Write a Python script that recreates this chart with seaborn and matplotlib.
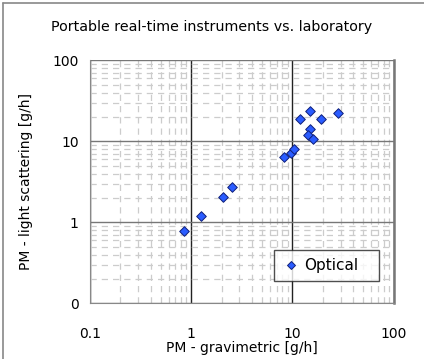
import matplotlib
matplotlib.use("Agg")
import matplotlib.pyplot as plt
import matplotlib.ticker as mticker
from matplotlib.lines import Line2D
import pandas as pd
import seaborn as sns

# gravimetric vs. light scattering, g/h
gravimetric = [0.85, 1.26, 2.08, 2.56, 8.3, 9.8, 10.3, 12.0, 15.1, 19.1, 15.1, 14.4, 15.9, 28.5]
scattering = [0.78, 1.21, 2.07, 2.73, 6.35, 7.2, 8.0, 18.7, 23.5, 18.7, 14.1, 11.9, 10.8, 22.2]
ticks = [0.1, 1, 10, 100]
yticklabels = ["0", "1", "10", "100"]
xticklabels = ["0.1", "1", "10", "100"]

df = pd.DataFrame({"grav": gravimetric, "light": scattering})

sns.set_style("white")
plt.rcParams["font.family"] = ["DejaVu Sans"]
plt.rcParams["text.color"] = "black"
plt.rcParams["axes.labelcolor"] = "black"
plt.rcParams["xtick.color"] = "black"
plt.rcParams["ytick.color"] = "black"

fig = plt.figure(figsize=(4.24, 3.59), dpi=100)
ax = fig.add_axes([0.2116, 0.155, 0.7167, 0.677])

ax.set_xscale("log")
ax.set_yscale("log")
ax.set_xlim(0.1, 100)
ax.set_ylim(0.1, 100)

# grid
ax.xaxis.set_minor_locator(mticker.LogLocator(base=10, subs=range(2, 10)))
ax.yaxis.set_minor_locator(mticker.LogLocator(base=10, subs=range(2, 10)))
ax.grid(which="minor", color="#cccccc", linestyle=(0, (5, 4)), linewidth=0.9)
ax.grid(which="major", axis="x", color="#222222", linewidth=1.0)
ax.grid(which="major", axis="y", color="#777777", linewidth=1.0)
ax.set_axisbelow(True)

sns.scatterplot(data=df, x="grav", y="light", marker="D", s=24,
                color="#2a5cff", edgecolor="#10207a", linewidth=0.7,
                ax=ax, zorder=3, legend=False)

ax.set_xticks(ticks)
ax.set_xticklabels(xticklabels)
ax.set_yticks(ticks)
ax.set_yticklabels(yticklabels)
ax.tick_params(which="major", direction="out", length=5, color="#888888",
               labelcolor="black", labelsize=10, pad=3)
ax.tick_params(axis="x", pad=12)
ax.tick_params(which="minor", length=0)

ax.spines["top"].set_visible(False)
ax.spines["left"].set_color("#888888")
ax.spines["bottom"].set_color("#888888")
ax.spines["right"].set_color("#777777")
ax.spines["right"].set_linewidth(1.8)

ax.set_xlabel("PM - gravimetric [g/h]", fontsize=10, labelpad=0)
ax.set_ylabel("PM - light scattering [g/h]", fontsize=10, labelpad=14)
fig.text(0.5, 0.925, "Portable real-time instruments vs. laboratory",
         ha="center", va="center", fontsize=10.3, color="black")

handle = Line2D([], [], marker="D", linestyle="none", markersize=4.5,
                markerfacecolor="#2a5cff", markeredgecolor="#10207a",
                markeredgewidth=0.7)
leg = ax.legend([handle], ["Optical"], loc="lower left",
                bbox_to_anchor=(0.606, 0.093, 0.346, 0.129), mode="expand",
                fontsize=11, frameon=True, fancybox=False, borderaxespad=0,
                handletextpad=0.3, handlelength=1.2, borderpad=0.5)
leg.get_frame().set_edgecolor("#222222")
leg.get_frame().set_linewidth(1.0)

# chart-area border (left and top)
fig.add_artist(Line2D([0.008, 0.008], [0, 0.992], transform=fig.transFigure,
                      color="#888888", linewidth=1.2))
fig.add_artist(Line2D([0.008, 1], [0.992, 0.992], transform=fig.transFigure,
                      color="#888888", linewidth=1.2))

fig.savefig("out.png", dpi=100)
